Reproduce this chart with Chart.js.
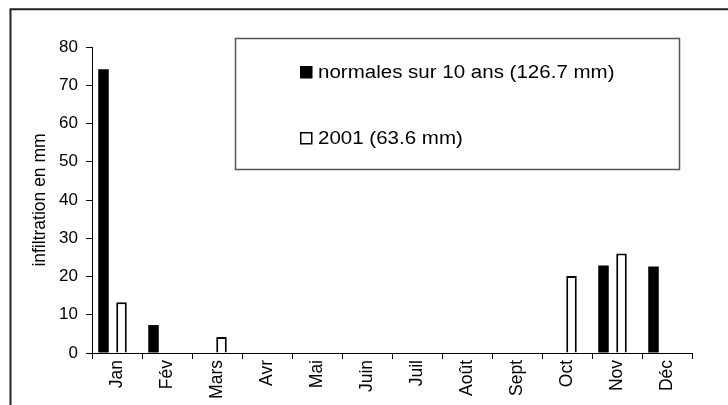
<!DOCTYPE html>
<html lang="fr">
<head>
  <meta charset="UTF-8" />
  <title>Infiltration mensuelle</title>
  <script src="https://cdn.jsdelivr.net/npm/chart.js"></script>
  <style>
    * { margin: 0; padding: 0; box-sizing: border-box; }
    body { background: #fff; width: 728px; height: 405px; overflow: hidden; }
    canvas { display: block; }
  </style>
</head>
<body>
  <canvas id="chart" width="728" height="405"></canvas>

  <script>
    // data
    const months = ['Jan', 'Fév', 'Mars', 'Avr', 'Mai', 'Juin', 'Juil', 'Août', 'Sept', 'Oct', 'Nov', 'Déc'];
    const normales = [74.2, 7.3, 0, 0, 0, 0, 0, 0, 0, 0, 22.9, 22.6];
    const annee2001 = [13.3, 0, 4.2, 0, 0, 0, 0, 0, 0, 20.1, 26.0, 0];
    const labelNormales = 'normales sur 10 ans (126.7 mm)';
    const label2001 = '2001 (63.6 mm)';
    const yMin = 0, yMax = 80, yStep = 10;
    const yTitle = 'infiltration en mm';

    const font = "'Liberation Sans', Arial, sans-serif";
    Chart.defaults.font.family = font;
    Chart.defaults.color = '#000';

    // outer frame (right and bottom edges fall outside the picture)
    const framePlugin = {
      id: 'frame',
      beforeDraw(chart) {
        const ctx = chart.ctx;
        ctx.save();
        ctx.strokeStyle = '#222';
        ctx.lineWidth = 2;
        ctx.beginPath();
        ctx.moveTo(10.5, 405);
        ctx.lineTo(10.5, 9.3);
        ctx.lineTo(728, 9.3);
        ctx.stroke();
        ctx.restore();
      }
    };

    // boxed legend inside the plot
    const boxLegend = {
      id: 'boxLegend',
      afterDraw(chart) {
        const ctx = chart.ctx;
        ctx.save();
        ctx.strokeStyle = '#555';
        ctx.lineWidth = 1.5;
        ctx.strokeRect(235.5, 38.5, 444, 131);

        const items = chart.data.datasets.filter(d => d.label);
        items.forEach((ds, i) => {
          const cy = 72 + i * 66;
          ctx.fillStyle = ds.backgroundColor;
          ctx.fillRect(300, cy - 6, 12.5, 12.5);
          if (ds.borderWidth) {
            ctx.strokeStyle = '#000';
            ctx.lineWidth = 1.5;
            ctx.strokeRect(300.75, cy - 5.25, 11, 11);
          }
          ctx.save();
          ctx.translate(318, cy);
          ctx.scale(1.14, 1);
          ctx.fillStyle = '#000';
          ctx.font = '18px ' + font;
          ctx.textBaseline = 'middle';
          ctx.fillText(ds.label, 0, 1);
          ctx.restore();
        });
        ctx.restore();
      }
    };

    new Chart(document.getElementById('chart'), {
      type: 'bar',
      data: {
        labels: months,
        datasets: [
          { label: labelNormales, data: normales, backgroundColor: '#000', borderWidth: 0 },
          { label: '', data: [] },
          { label: label2001, data: annee2001, backgroundColor: '#fff', borderColor: '#000', borderWidth: 2 },
          { label: '', data: [] }
        ]
      },
      options: {
        responsive: false,
        animation: false,
        layout: { padding: { left: 0, top: 47, right: 36, bottom: 0 } },
        categoryPercentage: 0.72,
        barPercentage: 1.17,
        plugins: {
          legend: { display: false },
          tooltip: { enabled: false }
        },
        scales: {
          x: {
            grid: { display: true, offset: true, drawOnChartArea: false, drawTicks: true, tickLength: 6, color: '#000' },
            border: { display: true, color: '#000', width: 1 },
            ticks: { autoSkip: false, minRotation: 90, maxRotation: 90, padding: 1, font: { size: 17.5 } },
            afterFit(scale) { scale.height = 52; }
          },
          y: {
            min: yMin,
            max: yMax,
            grid: { display: true, drawOnChartArea: false, drawTicks: true, tickLength: 6, color: '#000' },
            border: { display: true, color: '#000', width: 1 },
            ticks: { stepSize: yStep, padding: 8, font: { size: 17 } },
            title: { display: true, text: yTitle, font: { size: 17.5 }, padding: { top: 29.5, bottom: 0 } },
            afterFit(scale) { scale.width = 92; }
          }
        }
      },
      plugins: [framePlugin, boxLegend]
    });
  </script>
</body>
</html>
